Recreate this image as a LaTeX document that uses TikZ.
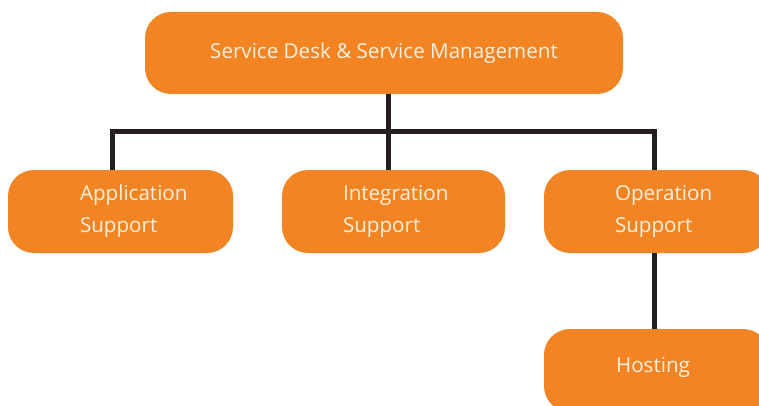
\documentclass[tikz,border=0pt]{standalone}
\usepackage{fontspec}
\setmainfont{Open Sans}
\definecolor{boxorange}{RGB}{243,132,35}
\definecolor{boxtext}{RGB}{255,240,222}
\definecolor{linkgray}{RGB}{35,31,32}

\begin{document}
\begin{tikzpicture}[x=1pt, y=-1pt,
    box/.style={rectangle, rounded corners=26pt, fill=boxorange, draw=none, minimum height=83pt, inner sep=0pt},
    lbl/.style={text=boxtext, font=\fontsize{20.6}{32}\selectfont, align=left, inner sep=0pt},
    link/.style={line width=5pt, color=linkgray, line join=miter}]
    \useasboundingbox (0,0) rectangle (759,406);
    \node[box, minimum width=478pt, minimum height=82pt, text=boxtext, font=\fontsize{20.6}{32}\selectfont] (top) at (384, 53) {Service Desk \& Service Management};
    \node[box, minimum width=225pt] (app) at (120.5, 211.5) {};
    \node[box, minimum width=223pt] (integ) at (393.5, 211.5) {};
    \node[box, minimum width=225pt] (oper) at (656.5, 211.5) {};
    \node[box, minimum width=225pt] (host) at (656.5, 370.5) {};
    \node[lbl, anchor=west] (appText) at ([xshift=72pt]app.west) {Application\\Support};
    \node[lbl, anchor=west] (integText) at ([xshift=61pt]integ.west) {Integration\\Support};
    \node[lbl, anchor=west] (operText) at ([xshift=71pt]oper.west) {Operation\\Support};
    \node[text=boxtext, font=\fontsize{20.6}{32}\selectfont, inner sep=0pt] (hostText) at (653, 367) {Hosting};
    \coordinate (busL) at (112, 132);
    \coordinate (busM) at (388, 132);
    \coordinate (busR) at (654, 132);
    \draw[link] (app.north -| busL) -- (busL) -- (busR) -- (oper.north -| busR);
    \draw[link] (top.south -| busM) -- (integ.north -| busM);
    \draw[link] (oper.south -| busR) -- (host.north -| busR);
\end{tikzpicture}
\end{document}
